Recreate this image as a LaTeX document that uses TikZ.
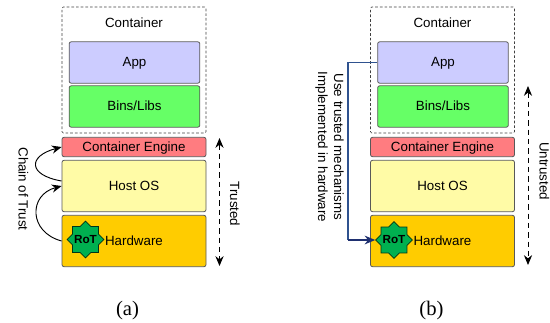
\documentclass[tikz,border=0pt]{standalone}
\usepackage{fontspec}
\setmainfont{Liberation Sans}
\newfontfamily\capfont{Liberation Serif}
\usetikzlibrary{arrows.meta}
\usetikzlibrary{shapes.geometric}
\definecolor{appcol}{HTML}{CCCCFF}
\definecolor{binscol}{HTML}{66FF66}
\definecolor{enginecol}{HTML}{FF7C80}
\definecolor{hostcol}{HTML}{FFFBA6}
\definecolor{hwcol}{HTML}{FFCC00}
\definecolor{rotcol}{HTML}{00B050}
\definecolor{linkcol}{HTML}{2F528F}
\definecolor{tipcol}{HTML}{1F3070}

\begin{document}
\begin{tikzpicture}
	[x=0.75pt,y=-0.75pt,font=\fontsize{10}{12}\selectfont,
	layer/.style={draw=black!65, line width=0.6pt, rounded corners=1.5pt, inner sep=0pt, minimum width=108pt, text height=8.5pt, text depth=1.8pt, text=black},
	inner/.style={layer, minimum width=98pt, minimum height=31pt},
	holder/.style={draw=black!75, dash pattern=on 2pt off 1.5pt, line width=0.4pt, rounded corners=1pt, inner sep=0pt, minimum width=108pt, minimum height=94.5pt},
	rot/.style={star, star points=8, star point ratio=1.31, minimum size=27.5pt, inner sep=0pt, draw=black!70!rotcol, line width=0.5pt, fill=rotcol},
	rotlabel/.style={label={[font=\fontsize{8.8}{10}\bfseries\selectfont,inner sep=0pt]center:RoT}},
	chain/.style={-{Stealth[scale=1.2,angle'=45]}, line width=0.7pt, black},
	span/.style={{Stealth[scale=1.2,angle'=45]}-{Stealth[scale=1.2,angle'=45]}, dash pattern=on 4pt off 3pt, line width=0.7pt, black},
	caption/.style={font=\capfont\fontsize{15.5}{18}\selectfont}];

	\useasboundingbox (0,0) rectangle (550,322);

	%Left stack
	\node[holder] (holderA) at (134,70) {};
	\node at (134,22.5) (titleA) {Container};
	\node[inner,fill=appcol] (appA) at (134.5,62.5) {App};
	\node[inner,fill=binscol] (binsA) at (134.5,106.5) {Bins/Libs};
	\node[layer,fill=enginecol,minimum height=14.5pt] (engineA) at (134,147) {Container Engine};
	\node[layer,fill=hostcol,minimum height=38.5pt] (hostA) at (134,186) {Host OS};
	\node[layer,fill=hwcol,minimum height=38.5pt] (hwA) at (134,241) {Hardware};
	\node[rot,rotlabel] (rotA) at (85.5,239.5) {};

	\coordinate (trustTop) at (219.5,138);
	\coordinate (trustEnd) at (219.5,266);
	\coordinate (hostOut) at (61.5,181);
	\draw[chain] (hwA.west) to[out=165,in=195,looseness=1.6] (hostA.west);
	\draw[chain] (hostOut) to[out=170,in=195,looseness=2.6] (engineA.west);
	\draw[span] (trustTop) -- (trustEnd);
	\node[rotate=-90] (chainText) at (23.5,189) {Chain of Trust};
	\node[rotate=-90] (trustText) at (235,204) {Trusted};
	\node[caption] (capA) at (127.5,311) {(a)};

	%Right stack
	\node[holder] (holderB) at (442.5,70) {};
	\node at (442.5,22.5) (titleB) {Container};
	\node[inner,fill=appcol] (appB) at (443,62.5) {App};
	\node[inner,fill=binscol] (binsB) at (443,106.5) {Bins/Libs};
	\node[layer,fill=enginecol,minimum height=14.5pt] (engineB) at (442.5,147) {Container Engine};
	\node[layer,fill=hostcol,minimum height=38.5pt] (hostB) at (442.5,186) {Host OS};
	\node[layer,fill=hwcol,minimum height=38.5pt] (hwB) at (442.5,241) {Hardware};
	\node[rot,rotlabel] (rotB) at (394,240) {};

	\coordinate (linkDown) at (348,62.5);
	\coordinate (linkBend) at (348,240);
	\coordinate (untrustTop) at (528,86);
	\coordinate (untrustEnd) at (528,265);
	\draw[linkcol, line width=0.8pt] (appB.west) -- (linkDown) -- (linkBend);
	\draw[-{Stealth[scale=1.2,angle'=45]}, tipcol, line width=0.8pt] (linkBend) -- (rotB.west);
	\draw[span] (untrustTop) -- (untrustEnd);
	\node[rotate=-90, align=center] (linkText) at (329.5,147) {Use trusted mechanisms\\Implemented in hardware};
	\node[rotate=-90] (untrustText) at (544.5,171) {Untrusted};
	\node[caption] (capB) at (431.5,311) {(b)};
\end{tikzpicture}
\end{document}
